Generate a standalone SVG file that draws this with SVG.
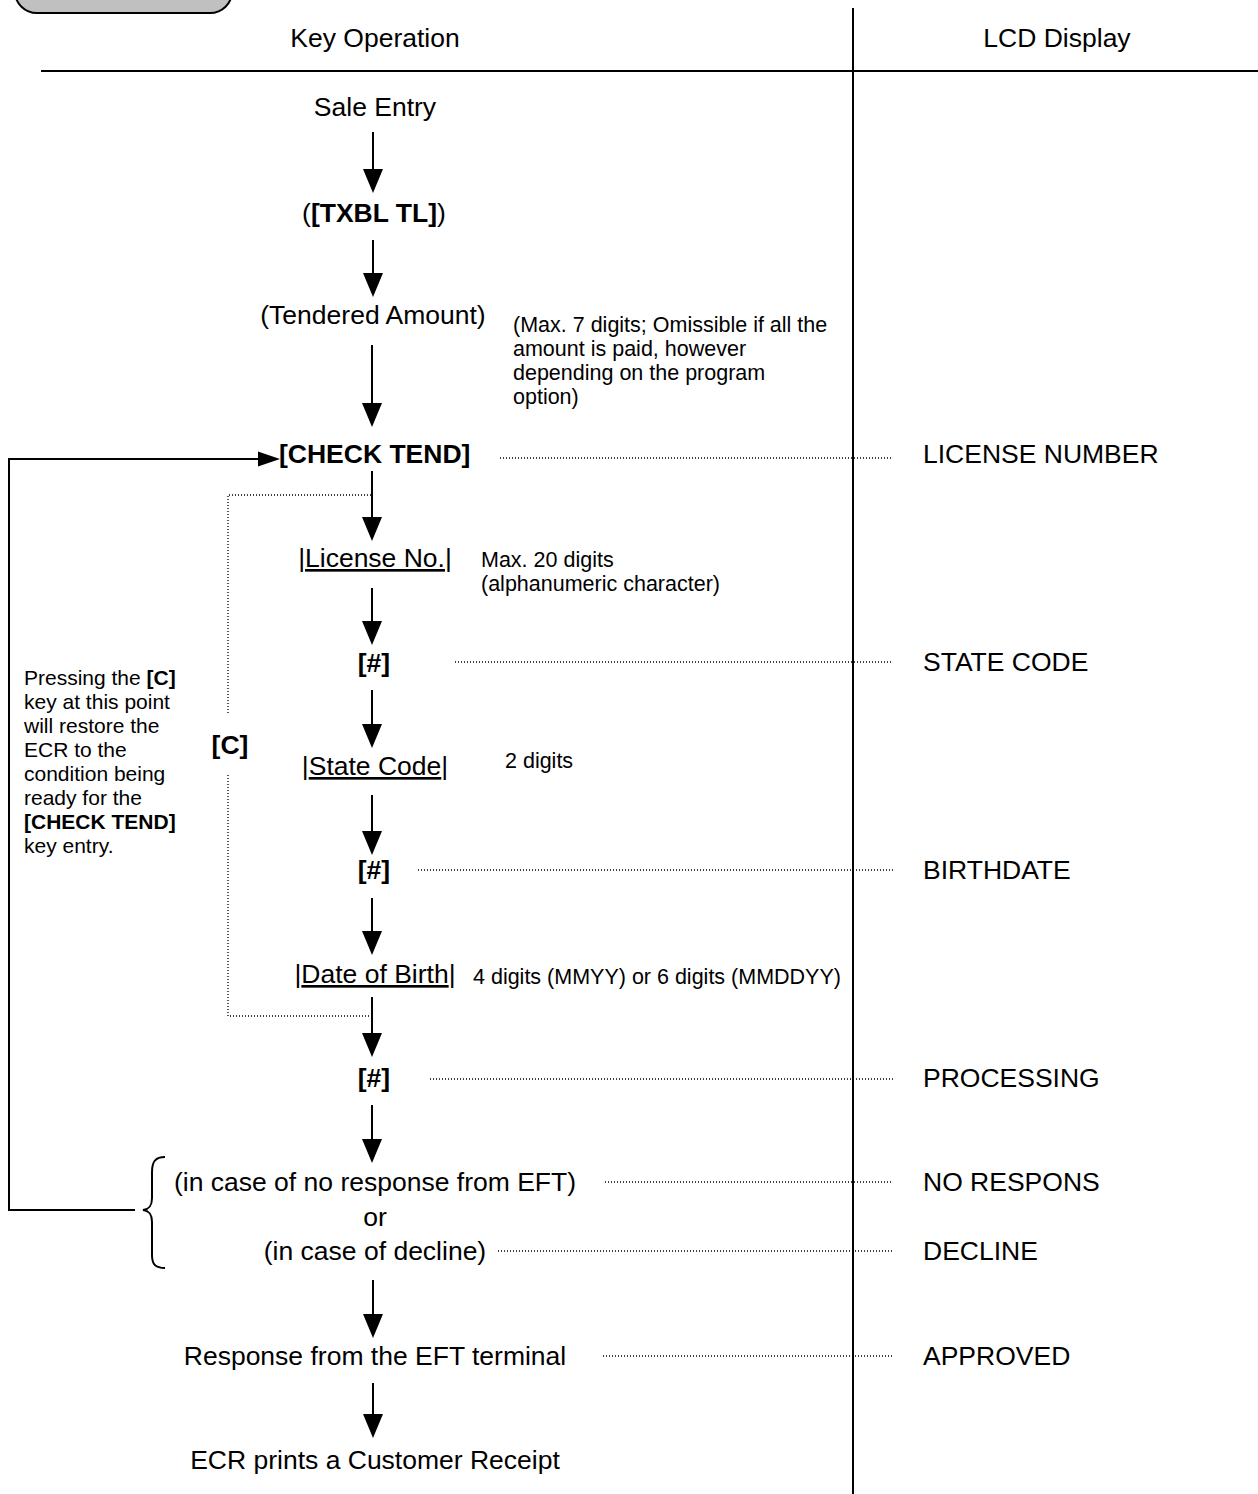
<svg xmlns="http://www.w3.org/2000/svg" width="1258" height="1494" viewBox="0 0 1258 1494">
<style>
text{font-family:"Liberation Sans",Arial,sans-serif;fill:#000}
.t{font-size:26.5px}
.b{font-size:26.5px;font-weight:bold}
.s{font-size:21.5px}
.n{font-size:21px}
.m{text-anchor:middle}
.ln{stroke:#000;stroke-width:2;fill:none}
.dot{stroke:#000;stroke-width:1.3;stroke-dasharray:1 2;fill:none}
.u{text-decoration:underline}
</style>
<rect x="15" y="-30" width="217" height="43" rx="22" fill="#c0c0c0" stroke="#000" stroke-width="2"/>
<g id="header">
<line class="ln" x1="41" y1="71" x2="1258" y2="71"/>
<line class="ln" x1="853" y1="8" x2="853" y2="1494"/>
<text class="t m" x="375" y="47">Key Operation</text>
<text class="t m" x="1057" y="47">LCD Display</text>
</g>
<g id="connectors">
<g fill="#000">
<line class="ln" x1="373" y1="132" x2="373" y2="172"/><path d="M363,169 L383,169 L373,193 Z"/>
<line class="ln" x1="373" y1="240" x2="373" y2="276"/><path d="M363,273 L383,273 L373,297 Z"/>
<line class="ln" x1="372" y1="345" x2="372" y2="406"/><path d="M362,403 L382,403 L372,427 Z"/>
<line class="ln" x1="372" y1="471" x2="372" y2="520"/><path d="M362,517 L382,517 L372,541 Z"/>
<line class="ln" x1="372" y1="588" x2="372" y2="624"/><path d="M362,621 L382,621 L372,645 Z"/>
<line class="ln" x1="372" y1="690" x2="372" y2="727"/><path d="M362,724 L382,724 L372,748 Z"/>
<line class="ln" x1="372" y1="795" x2="372" y2="834"/><path d="M362,831 L382,831 L372,855 Z"/>
<line class="ln" x1="372" y1="898" x2="372" y2="934"/><path d="M362,931 L382,931 L372,955 Z"/>
<line class="ln" x1="372" y1="997" x2="372" y2="1036"/><path d="M362,1033 L382,1033 L372,1057 Z"/>
<line class="ln" x1="372" y1="1105" x2="372" y2="1142"/><path d="M362,1139 L382,1139 L372,1163 Z"/>
<line class="ln" x1="373" y1="1280" x2="373" y2="1317"/><path d="M363,1314 L383,1314 L373,1338 Z"/>
<line class="ln" x1="373" y1="1383" x2="373" y2="1417"/><path d="M363,1414 L383,1414 L373,1438 Z"/>
</g>
<polyline class="ln" points="135,1210 9,1210 9,459 262,459"/>
<path d="M258,451.5 L280,459 L258,466.5 Z" fill="#000"/>
<path class="ln" d="M165,1157 C155,1157 152,1162 152,1172 L152,1198 C152,1205 150,1209 143,1210 C150,1211 152,1215 152,1222 L152,1255 C152,1264 155,1268 165,1268" stroke-width="1.8"/>
<polyline class="dot" points="371,495 228,495 228,714"/>
<polyline class="dot" points="228,775 228,1016 369,1016"/>
<line class="dot" x1="500" y1="458" x2="893" y2="458"/>
<line class="dot" x1="455" y1="662" x2="893" y2="662"/>
<line class="dot" x1="418" y1="870" x2="893" y2="870"/>
<line class="dot" x1="430" y1="1079" x2="893" y2="1079"/>
<line class="dot" x1="605" y1="1182" x2="893" y2="1182"/>
<line class="dot" x1="498" y1="1251" x2="893" y2="1251"/>
<line class="dot" x1="603" y1="1356" x2="893" y2="1356"/>
</g>
<g id="n-sale"><text class="t m" x="375" y="116">Sale Entry</text></g>
<g id="n-txbl"><text class="t m" x="374" y="222">(<tspan font-weight="bold">[TXBL TL]</tspan>)</text></g>
<g id="n-tend"><text class="t m" x="373" y="324">(Tendered Amount)</text>
<text class="s" x="513" y="332">(Max. 7 digits; Omissible if all the</text>
<text class="s" x="513" y="356">amount is paid, however</text>
<text class="s" x="513" y="380">depending on the program</text>
<text class="s" x="513" y="404">option)</text></g>
<g id="n-check"><text class="b" x="279" y="463">[CHECK TEND]</text>
<text class="t" x="923" y="463">LICENSE NUMBER</text></g>
<g id="n-license"><text class="t m" x="375" y="567">|<tspan class="u">License No.</tspan>|</text>
<text class="s" x="481" y="567">Max. 20 digits</text>
<text class="s" x="481" y="591">(alphanumeric character)</text></g>
<g id="n-hash1"><text class="b m" x="374" y="672">[#]</text>
<text class="t" x="923" y="671">STATE CODE</text></g>
<g id="n-state"><text class="t m" x="375" y="775">|<tspan class="u">State Code</tspan>|</text>
<text class="s" x="505" y="768">2 digits</text></g>
<g id="n-hash2"><text class="b m" x="374" y="879">[#]</text>
<text class="t" x="923" y="879">BIRTHDATE</text></g>
<g id="n-dob"><text class="t m" x="375" y="983">|<tspan class="u">Date of Birth</tspan>|</text>
<text class="s" x="473" y="984">4 digits (MMYY) or 6 digits (MMDDYY)</text></g>
<g id="n-hash3"><text class="b m" x="374" y="1087">[#]</text>
<text class="t" x="923" y="1087">PROCESSING</text></g>
<g id="n-c"><text class="b m" x="230" y="754">[C]</text></g>
<g id="n-note"><text class="n" x="24" y="685">Pressing the <tspan font-weight="bold">[C]</tspan></text>
<text class="n" x="24" y="709">key at this point</text>
<text class="n" x="24" y="733">will restore the</text>
<text class="n" x="24" y="757">ECR to the</text>
<text class="n" x="24" y="781">condition being</text>
<text class="n" x="24" y="805">ready for the</text>
<text class="n" x="24" y="829" font-weight="bold">[CHECK TEND]</text>
<text class="n" x="24" y="853">key entry.</text></g>
<g id="n-fail"><text class="t m" x="375" y="1191">(in case of no response from EFT)</text>
<text class="t m" x="375" y="1226">or</text>
<text class="t m" x="375" y="1260">(in case of decline)</text>
<text class="t" x="923" y="1191">NO RESPONS</text>
<text class="t" x="923" y="1260">DECLINE</text></g>
<g id="n-resp"><text class="t m" x="375" y="1365">Response from the EFT terminal</text>
<text class="t" x="923" y="1365">APPROVED</text></g>
<g id="n-print"><text class="t m" x="375" y="1469">ECR prints a Customer Receipt</text></g>
</svg>
